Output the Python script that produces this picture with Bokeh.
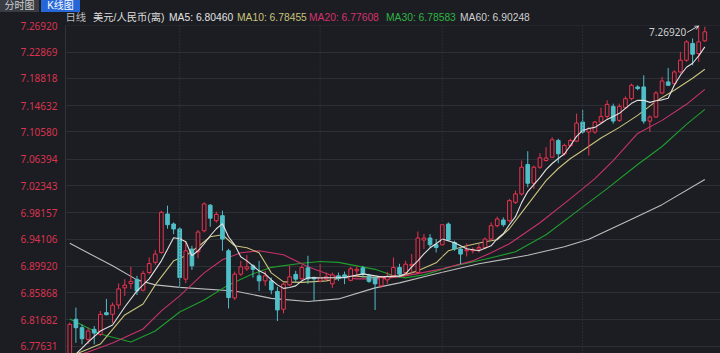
from bokeh.plotting import figure
from bokeh.layouts import column
from bokeh.models import (ColumnDataSource, Range1d, FixedTicker, PrintfTickFormatter,
                          Span, Label, Arrow, OpenHead, Div)
from bokeh.embed import file_html
from bokeh.resources import INLINE

# ---------------- data ----------------
open_ = [6.7563, 6.8175, 6.8046, 6.7867, 6.8021, 6.7944, 6.8277, 6.8252, 6.8396, 6.8659,
         6.8725, 6.8790, 6.8623, 6.8895, 6.9052, 6.9204, 6.9796, 6.9642, 6.9565, 6.8793,
         6.9256, 6.9215, 6.9538, 6.9932, 6.9693, 6.9770, 6.9230, 6.8504, 6.8870, 6.8952,
         6.8998, 6.8844, 6.8767, 6.8767, 6.8605, 6.8330, 6.8705, 6.8867, 6.8798, 6.8967,
         6.8821, 6.8767, 6.8793, 6.8721, 6.8844, 6.8859, 6.8775, 6.8921, 6.8967, 6.8844,
         6.8813, 6.8690, 6.8782, 6.8844, 6.8972, 6.8895, 6.8998, 6.8895, 6.9395, 6.9426,
         6.9322, 6.9322, 6.9642, 6.9358, 6.9256, 6.9230, 6.9230, 6.9256, 6.9281, 6.9410,
         6.9616, 6.9704, 6.9693, 6.9976, 7.0105, 7.0557, 7.0269, 7.0516, 7.0619, 7.0670,
         7.0928, 7.0723, 7.0851, 7.0917, 7.1211, 7.1057, 7.1057, 7.1211, 7.1298, 7.1452,
         7.1237, 7.1432, 7.1571, 7.1751, 7.1751, 7.1226, 7.1288, 7.1658, 7.1828, 7.1803,
         7.1982, 7.2163, 7.2421, 7.2266, 7.2461]
high = [6.8123, 6.8355, 6.8098, 6.8046, 6.8072, 6.8303, 6.8489, 6.8432, 6.8728, 6.8793,
        6.8983, 6.8844, 6.8921, 6.9127, 6.9241, 6.9847, 6.9924, 6.9667, 6.9590, 6.9369,
        6.9307, 6.9549, 6.9976, 6.9948, 6.9832, 6.9847, 6.9261, 6.8910, 6.9075, 6.9164,
        6.9024, 6.9075, 6.8921, 6.8818, 6.8674, 6.8741, 6.8998, 6.8921, 6.9013, 6.9153,
        6.8829, 6.9024, 6.8895, 6.8895, 6.8895, 6.8910, 6.8983, 6.8998, 6.8998, 6.8875,
        6.8829, 6.8844, 6.8906, 6.9127, 6.9029, 6.9075, 6.9179, 6.9527, 6.9487, 6.9487,
        6.9410, 6.9642, 6.9667, 6.9384, 6.9281, 6.9343, 6.9281, 6.9333, 6.9435, 6.9667,
        6.9755, 6.9744, 7.0028, 7.0156, 7.0619, 7.0762, 7.0542, 7.0732, 7.0825, 7.0979,
        7.0954, 7.0877, 7.0954, 7.1340, 7.1402, 7.1134, 7.1227, 7.1432, 7.1545, 7.1494,
        7.1494, 7.1607, 7.1803, 7.1777, 7.1931, 7.1314, 7.1689, 7.1905, 7.2044, 7.2008,
        7.2291, 7.2471, 7.2497, 7.2692, 7.2677]
low = [6.7532, 6.7814, 6.7789, 6.7794, 6.7789, 6.7918, 6.8237, 6.8118, 6.8334, 6.8535,
       6.8644, 6.8550, 6.8604, 6.8867, 6.9013, 6.9184, 6.9569, 6.9487, 6.8663, 6.8731,
       6.8936, 6.9114, 6.9512, 6.9600, 6.9662, 6.9230, 6.8342, 6.8473, 6.8844, 6.8921,
       6.8818, 6.8612, 6.8690, 6.8561, 6.8149, 6.8265, 6.8690, 6.8752, 6.8790, 6.8721,
       6.8458, 6.8741, 6.8767, 6.8659, 6.8767, 6.8716, 6.8759, 6.8818, 6.8818, 6.8736,
       6.8319, 6.8663, 6.8721, 6.8818, 6.8821, 6.8844, 6.8870, 6.8870, 6.9256, 6.9281,
       6.9204, 6.9307, 6.9384, 6.9230, 6.9024, 6.9142, 6.9188, 6.9204, 6.9256, 6.9384,
       6.9590, 6.9600, 6.9667, 6.9950, 7.0079, 7.0207, 7.0182, 7.0491, 7.0604, 7.0661,
       7.0578, 7.0696, 7.0825, 7.0902, 7.1031, 7.0696, 7.1031, 7.1185, 7.1263, 7.1185,
       7.1211, 7.1411, 7.1545, 7.1700, 7.1185, 7.1057, 7.1278, 7.1638, 7.1772, 7.1777,
       7.1957, 7.2137, 7.2085, 7.2137, 7.2445]
close = [6.8098, 6.8046, 6.7876, 6.7995, 6.7964, 6.8252, 6.8246, 6.8392, 6.8644, 6.8701,
         6.8759, 6.8612, 6.8882, 6.9033, 6.9179, 6.9821, 6.9631, 6.9565, 6.8818, 6.9230,
         6.8998, 6.9518, 6.9951, 6.9732, 6.9790, 6.9410, 6.8509, 6.8870, 6.8983, 6.8983,
         6.8944, 6.8767, 6.8844, 6.8628, 6.8319, 6.8716, 6.8829, 6.8793, 6.8972, 6.8798,
         6.8798, 6.8806, 6.8829, 6.8859, 6.8802, 6.8813, 6.8952, 6.8944, 6.8870, 6.8759,
         6.8721, 6.8818, 6.8829, 6.8972, 6.8870, 6.9024, 6.9021, 6.9426, 6.9426, 6.9322,
         6.9281, 6.9631, 6.9395, 6.9256, 6.9179, 6.9245, 6.9245, 6.9281, 6.9410, 6.9616,
         6.9719, 6.9631, 7.0002, 7.0105, 7.0516, 7.0269, 7.0516, 7.0661, 7.0658, 7.0939,
         7.0723, 7.0851, 7.0928, 7.1195, 7.1057, 7.1109, 7.1211, 7.1298, 7.1483, 7.1226,
         7.1452, 7.1571, 7.1777, 7.1726, 7.1226, 7.1288, 7.1658, 7.1843, 7.1777, 7.1982,
         7.2163, 7.2445, 7.2255, 7.2445, 7.2600]

ma5_idx = [1, 3, 5, 7, 9, 11, 13, 15, 17, 18, 19, 20, 21, 22, 23, 24, 25, 26, 27, 28,
           29, 30, 31, 32, 33, 34, 35, 36, 37, 38, 39, 41, 45, 48, 51, 54, 55, 56, 57, 58,
           59, 60, 61, 63, 65, 67, 69, 70, 71, 72, 73, 74, 75, 76, 77, 78, 79, 80, 81, 82,
           83, 84, 85, 86, 87, 88, 89, 90, 91, 92, 93, 94, 95, 96, 97, 98, 99, 100, 101, 102,
           103, 104]
ma5 = [6.7640, 6.7825, 6.7995, 6.8087, 6.8365, 6.8612, 6.8798, 6.9075, 6.9430, 6.9415,
       6.9369, 6.9153, 6.9230, 6.9338, 6.9461, 6.9569, 6.9647, 6.9446, 6.9322, 6.9137,
       6.9075, 6.8998, 6.8921, 6.8875, 6.8782, 6.8705, 6.8651, 6.8666, 6.8690, 6.8767,
       6.8813, 6.8813, 6.8818, 6.8875, 6.8828, 6.8844, 6.8875, 6.8983, 6.9075, 6.9183,
       6.9276, 6.9338, 6.9410, 6.9353, 6.9261, 6.9230, 6.9307, 6.9415, 6.9492, 6.9631,
       6.9755, 6.9971, 7.0141, 7.0249, 7.0357, 7.0480, 7.0573, 7.0650, 7.0719, 7.0851,
       7.0990, 7.1082, 7.1113, 7.1129, 7.1190, 7.1252, 7.1298, 7.1345, 7.1422, 7.1499,
       7.1545, 7.1545, 7.1514, 7.1538, 7.1553, 7.1576, 7.1777, 7.1931, 7.2055, 7.2116,
       7.2230, 7.2368]

ma10_idx = [0, 1, 5, 9, 12, 14, 17, 19, 21, 23, 25, 27, 29, 31, 33, 35, 38, 42, 46, 50,
            54, 57, 60, 62, 65, 68, 70, 72, 74, 76, 78, 80, 82, 84, 87, 90, 93, 96, 99, 102,
            104]
ma10 = [6.7593, 6.7640, 6.7794, 6.8242, 6.8412, 6.8705, 6.9075, 6.9153, 6.9292, 6.9446,
        6.9477, 6.9307, 6.9276, 6.9199, 6.8890, 6.8751, 6.8744, 6.8767, 6.8844, 6.8821,
        6.8836, 6.8921, 6.9045, 6.9230, 6.9307, 6.9369, 6.9400, 6.9569, 6.9816, 7.0063,
        7.0310, 7.0496, 7.0650, 7.0773, 7.0966, 7.1129, 7.1314, 7.1530, 7.1700, 7.1885,
        7.2024]

ma20_idx = [0, 3, 7, 12, 15, 18, 22, 25, 28, 31, 35, 39, 43, 47, 51, 55, 61, 66, 69, 72,
            77, 82, 86, 89, 93, 97, 101, 104]
ma20 = [6.7593, 6.7671, 6.7810, 6.8026, 6.8304, 6.8535, 6.8890, 6.9091, 6.9199, 6.9230,
        6.9168, 6.8983, 6.8844, 6.8798, 6.8798, 6.8844, 6.8952, 6.9075, 6.9199, 6.9338,
        6.9662, 7.0033, 7.0341, 7.0619, 7.1036, 7.1237, 7.1484, 7.1715]

ma30_idx = [0, 5, 10, 14, 18, 22, 26, 30, 33, 38, 41, 44, 47, 50, 53, 55, 58, 63, 68, 73,
            78, 83, 88, 93, 97, 101, 104]
ma30 = [6.8180, 6.7949, 6.7825, 6.7995, 6.8288, 6.8473, 6.8705, 6.8875, 6.8975, 6.9037,
        6.9065, 6.9052, 6.8998, 6.8944, 6.8844, 6.8813, 6.8859, 6.8998, 6.9099, 6.9214,
        6.9477, 6.9832, 7.0187, 7.0557, 7.0835, 7.1175, 7.1406]

ma60_idx = [0, 7, 11, 14, 18, 27, 33, 39, 44, 50, 54, 60, 67, 75, 81, 85, 92, 97, 104]
ma60 = [6.9345, 6.8998, 6.8782, 6.8705, 6.8666, 6.8612, 6.8497, 6.8450, 6.8489, 6.8659,
        6.8736, 6.8875, 6.9029, 6.9160, 6.9292, 6.9407, 6.9716, 6.9940, 7.0326]

month_start_idx = [18, 41, 61, 84]

y_ticks = [7.26920, 7.22869, 7.18818, 7.14632, 7.10580, 7.06394, 7.02343,
           6.98157, 6.94106, 6.89920, 6.85868, 6.81682, 6.77631]

tab_labels = ["分时图", "K线图"]
title_parts = ["日线", "美元/人民币(离)"]
ma_names = ["MA5", "MA10", "MA20", "MA30", "MA60"]
ma_header_values = ["6.80460", "6.78455", "6.77608", "6.78583", "6.90248"]

# ---------------- style ----------------
BG = "#1b1d22"
UP = "#e8334f"
DOWN = "#4fbfc8"
MA_COLORS = ["#e2e2e2", "#c9c27c", "#c8326b", "#1f9e2e", "#bdbdbd"]
HEAD_H = 22          # header strip height
OVERLAP = 4          # plot canvas starts this many px above the strip's bottom
FRAME_TOP = 25       # page y of the plot frame top
HEAD_FONT = "'Liberation Sans','Noto Sans CJK SC'"

# ---------------- header strip (tabs + title line) as HTML ----------------
tab_style = [("#393c43", "#cfcfcf", 0), ("#2566d8", "#ffffff", 41)]
parts = []
for t, (bg, fg, x0) in zip(tab_labels, tab_style):
    parts.append(
        f'<div style="position:absolute;left:{x0}px;top:0px;width:39px;height:12px;'
        f'background:{bg};"></div>'
        f'<span style="position:absolute;left:{x0}px;top:0px;width:39px;height:12px;'
        f'color:{fg};font-family:{HEAD_FONT};font-size:10px;'
        f'line-height:12px;text-align:center;white-space:nowrap;">{t}</span>')
header_x = [65.5, 93, 169, 237, 309, 386, 460]
header_txt = title_parts + [f"{nm}: {v}" for nm, v in zip(ma_names, ma_header_values)]
header_col = ["#bdbdbd", "#dedede"] + MA_COLORS[:2] + ["#d4336d", "#2fb344", "#cfcfcf"]
for hx, ht, hc in zip(header_x, header_txt, header_col):
    parts.append(
        f'<span style="position:absolute;left:{hx}px;top:12px;line-height:11px;'
        f'font-family:{HEAD_FONT};font-size:10.3px;color:{hc};'
        f'white-space:nowrap;">{ht}</span>')
header_html = (f'<div style="position:relative;width:720px;height:{HEAD_H}px;'
               f'background:{BG};margin:0;padding:0;">' + "".join(parts) + '</div>')
head = Div(text=header_html, width=720, height=HEAD_H, margin=0,
           styles={"background-color": BG, "padding": "0", "margin": "0"})

# ---------------- main candlestick chart ----------------
n = len(close)
idx = list(range(n))
up = [c >= o for o, c in zip(open_, close)]
src = ColumnDataSource(dict(
    x=idx, high=high, low=low,
    top=[max(o, c) for o, c in zip(open_, close)],
    bottom=[min(o, c) for o, c in zip(open_, close)],
    color=[UP if u else DOWN for u in up],
    fill=[BG if u else DOWN for u in up],
))

p = figure(width=720, height=353 - HEAD_H + OVERLAP, output_backend="svg",
           toolbar_location=None,
           x_range=Range1d(-0.704, 106.57), y_range=Range1d(6.7649, 7.2697),
           x_axis_type=None, min_border_left=65, min_border_right=0,
           min_border_top=FRAME_TOP - HEAD_H + OVERLAP, min_border_bottom=0,
           margin=(-OVERLAP, 0, 0, 0))
p.background_fill_color = BG
p.border_fill_color = None          # transparent border: the header strip shows through
p.outline_line_color = None
p.xgrid.visible = False
p.ygrid.grid_line_color = "#2c2f35"
p.ygrid.grid_line_width = 1

ax = p.yaxis[0]
ax.ticker = FixedTicker(ticks=y_ticks)
ax.formatter = PrintfTickFormatter(format="%.5f")
ax.major_label_text_color = "#d9334f"
ax.major_label_text_font = "Noto Sans"
ax.major_label_text_font_size = "10px"
ax.major_tick_line_color = None
ax.minor_tick_line_color = None
ax.axis_line_color = "#30333a"
ax.major_label_standoff = 2

for m in month_start_idx:
    p.add_layout(Span(location=m, dimension="height", line_color="#3a3d44",
                      line_dash="1 2", line_width=1))

for xs, ys, col in [(ma60_idx, ma60, MA_COLORS[4]), (ma30_idx, ma30, MA_COLORS[3]),
                    (ma20_idx, ma20, MA_COLORS[2]), (ma10_idx, ma10, MA_COLORS[1])]:
    p.line(xs, ys, line_color=col, line_width=1.1)

p.segment(x0="x", y0="high", x1="x", y1="low", line_color="color", line_width=1, source=src)
p.vbar(x="x", width=0.6, top="top", bottom="bottom", fill_color="fill",
       line_color="color", line_width=1, source=src)

p.line(ma5_idx, ma5, line_color=MA_COLORS[0], line_width=1.1)

imax = max(range(n), key=lambda i: high[i])
hmax = high[imax]
p.add_layout(Arrow(end=OpenHead(size=4, line_color="#d8d8d8", line_width=1),
                   x_start=imax - 1.9, y_start=hmax - 0.0102, x_end=imax, y_end=hmax,
                   line_color="#d8d8d8", line_width=1))
p.add_layout(Label(x=imax - 1.9, y=hmax - 0.0102, text=f"{hmax:.5f}", text_align="right",
                   text_baseline="middle", x_offset=-1, text_color="#d0d0d0",
                   text_font="Noto Sans", text_font_size="10px"))

layout = column(head, p, spacing=0, margin=0, styles={"background-color": BG})
open("out.html", "w").write(file_html(layout, INLINE))
